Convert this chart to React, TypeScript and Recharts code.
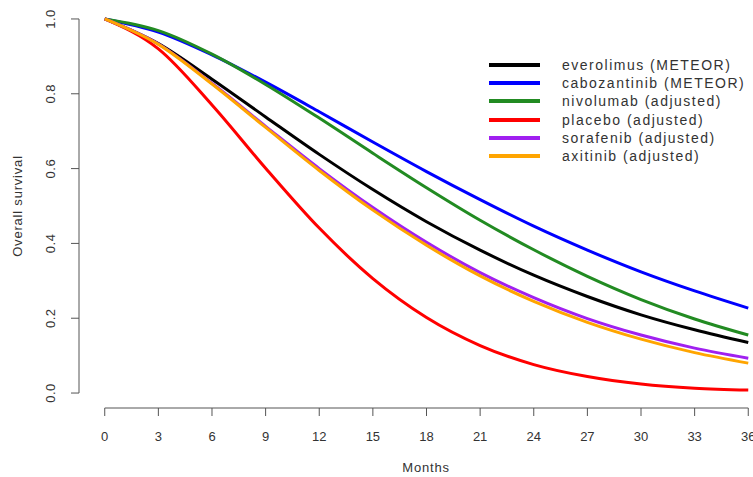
import React from "react";
import { LineChart, Line, XAxis, YAxis, ReferenceLine } from "recharts";

// months on the x axis, survival every 3 months
const months = [0, 3, 6, 9, 12, 15, 18, 21, 24, 27, 30, 33, 36];
const everolimus = [1, 0.934, 0.839, 0.738, 0.638, 0.544, 0.458, 0.382, 0.315, 0.258, 0.209, 0.169, 0.135];
const cabozantinib = [1, 0.965, 0.904, 0.831, 0.752, 0.671, 0.592, 0.517, 0.446, 0.382, 0.324, 0.273, 0.227];
const nivolumab = [1, 0.969, 0.906, 0.825, 0.735, 0.641, 0.549, 0.462, 0.383, 0.312, 0.25, 0.198, 0.155];
const placebo = [1, 0.92, 0.77, 0.601, 0.441, 0.306, 0.202, 0.127, 0.076, 0.044, 0.024, 0.013, 0.008];
const sorafenib = [1, 0.933, 0.828, 0.713, 0.6, 0.496, 0.403, 0.322, 0.255, 0.199, 0.155, 0.12, 0.093];
const axitinib = [1, 0.932, 0.826, 0.71, 0.595, 0.489, 0.395, 0.313, 0.245, 0.189, 0.144, 0.108, 0.08];

const xTicks = [0, 3, 6, 9, 12, 15, 18, 21, 24, 27, 30, 33, 36];
const yTicks = [0, 0.2, 0.4, 0.6, 0.8, 1.0];

const series = [
	{ key: "everolimus", name: "everolimus (METEOR)", color: "#000000", values: everolimus },
	{ key: "cabozantinib", name: "cabozantinib (METEOR)", color: "#0000FF", values: cabozantinib },
	{ key: "nivolumab", name: "nivolumab (adjusted)", color: "#228B22", values: nivolumab },
	{ key: "placebo", name: "placebo (adjusted)", color: "#FF0000", values: placebo },
	{ key: "sorafenib", name: "sorafenib (adjusted)", color: "#A020F0", values: sorafenib },
	{ key: "axitinib", name: "axitinib (adjusted)", color: "#FFA500", values: axitinib },
];

const data = months.map((m, i) => {
	const row: Record<string, number> = { month: m };
	series.forEach((s) => (row[s.key] = s.values[i]));
	return row;
});

const FONT = "'Liberation Sans', Arial, Helvetica, sans-serif";
const AXIS = "#555";
const TEXT = "#333";

// R-style: tick points outward, label below
const XTick = (props: any) => {
	const { x, y, payload } = props;
	return (
		<g>
			<line x1={x} y1={y} x2={x} y2={y + 8} stroke={AXIS} strokeWidth={1} />
			<text x={x} y={y + 33} textAnchor="middle" fontSize={13} fontFamily={FONT} fill={TEXT}>
				{payload.value}
			</text>
		</g>
	);
};

// y labels are parallel to the axis (las = 0)
const YTick = (props: any) => {
	const { x, y, payload } = props;
	const tx = x - 24;
	return (
		<g>
			<line x1={x} y1={y} x2={x - 8} y2={y} stroke={AXIS} strokeWidth={1} />
			<text x={tx} y={y} transform={`rotate(-90, ${tx}, ${y})`} textAnchor="middle" fontSize={13} fontFamily={FONT} fill={TEXT} letterSpacing={0.5}>
				{Number(payload.value).toFixed(1)}
			</text>
		</g>
	);
};

export default function App() {
	return (
		<div style={{ position: "absolute", left: 0, top: 0, width: 753, height: 477, overflow: "hidden", background: "#fff" }}>
			<LineChart width={800} height={477} data={data} margin={{ top: 4, right: 26, left: 0, bottom: 0 }}>
				<XAxis
					dataKey="month"
					type="number"
					domain={[-1.44, 37.44]}
					ticks={xTicks}
					height={69}
					axisLine={false}
					tickLine={false}
					tickSize={0}
					tickMargin={0}
					interval={0}
					tick={<XTick />}
					label={{
						content: () => (
							<text x={426} y={472} textAnchor="middle" fontSize={13} fontFamily={FONT} fill={TEXT} letterSpacing={0.8}>
								Months
							</text>
						),
					}}
				/>
				<YAxis
					type="number"
					domain={[-0.04, 1.04]}
					ticks={yTicks}
					width={79}
					axisLine={false}
					tickLine={false}
					tickSize={0}
					tickMargin={0}
					interval={0}
					tick={<YTick />}
					label={{
						content: () => (
							<text x={22} y={206} transform="rotate(-90, 22, 206)" textAnchor="middle" fontSize={13} fontFamily={FONT} fill={TEXT} letterSpacing={0.8}>
								Overall survival
							</text>
						),
					}}
				/>
				{/* axis lines only span first to last tick */}
				<ReferenceLine segment={[{ x: 0, y: -0.04 }, { x: 36, y: -0.04 }]} stroke={AXIS} strokeWidth={1} ifOverflow="visible" />
				<ReferenceLine segment={[{ x: -1.44, y: 0 }, { x: -1.44, y: 1 }]} stroke={AXIS} strokeWidth={1} ifOverflow="visible" />
				{series.map((s) => (
					<Line
						key={s.key}
						type="monotone"
						dataKey={s.key}
						name={s.name}
						stroke={s.color}
						strokeWidth={3}
						dot={false}
						activeDot={false}
						isAnimationActive={false}
					/>
				))}
			</LineChart>

			<div style={{ position: "absolute", left: 489, top: 56, fontFamily: FONT, fontSize: 14, color: TEXT, letterSpacing: 1.5 }}>
				{series.map((s) => (
					<div key={s.key} style={{ display: "flex", alignItems: "center", height: 18.2 }}>
						<span style={{ display: "inline-block", width: 51, height: 4, background: s.color, marginRight: 22 }} />
						<span style={{ whiteSpace: "nowrap", lineHeight: "18px" }}>{s.name}</span>
					</div>
				))}
			</div>
		</div>
	);
}
